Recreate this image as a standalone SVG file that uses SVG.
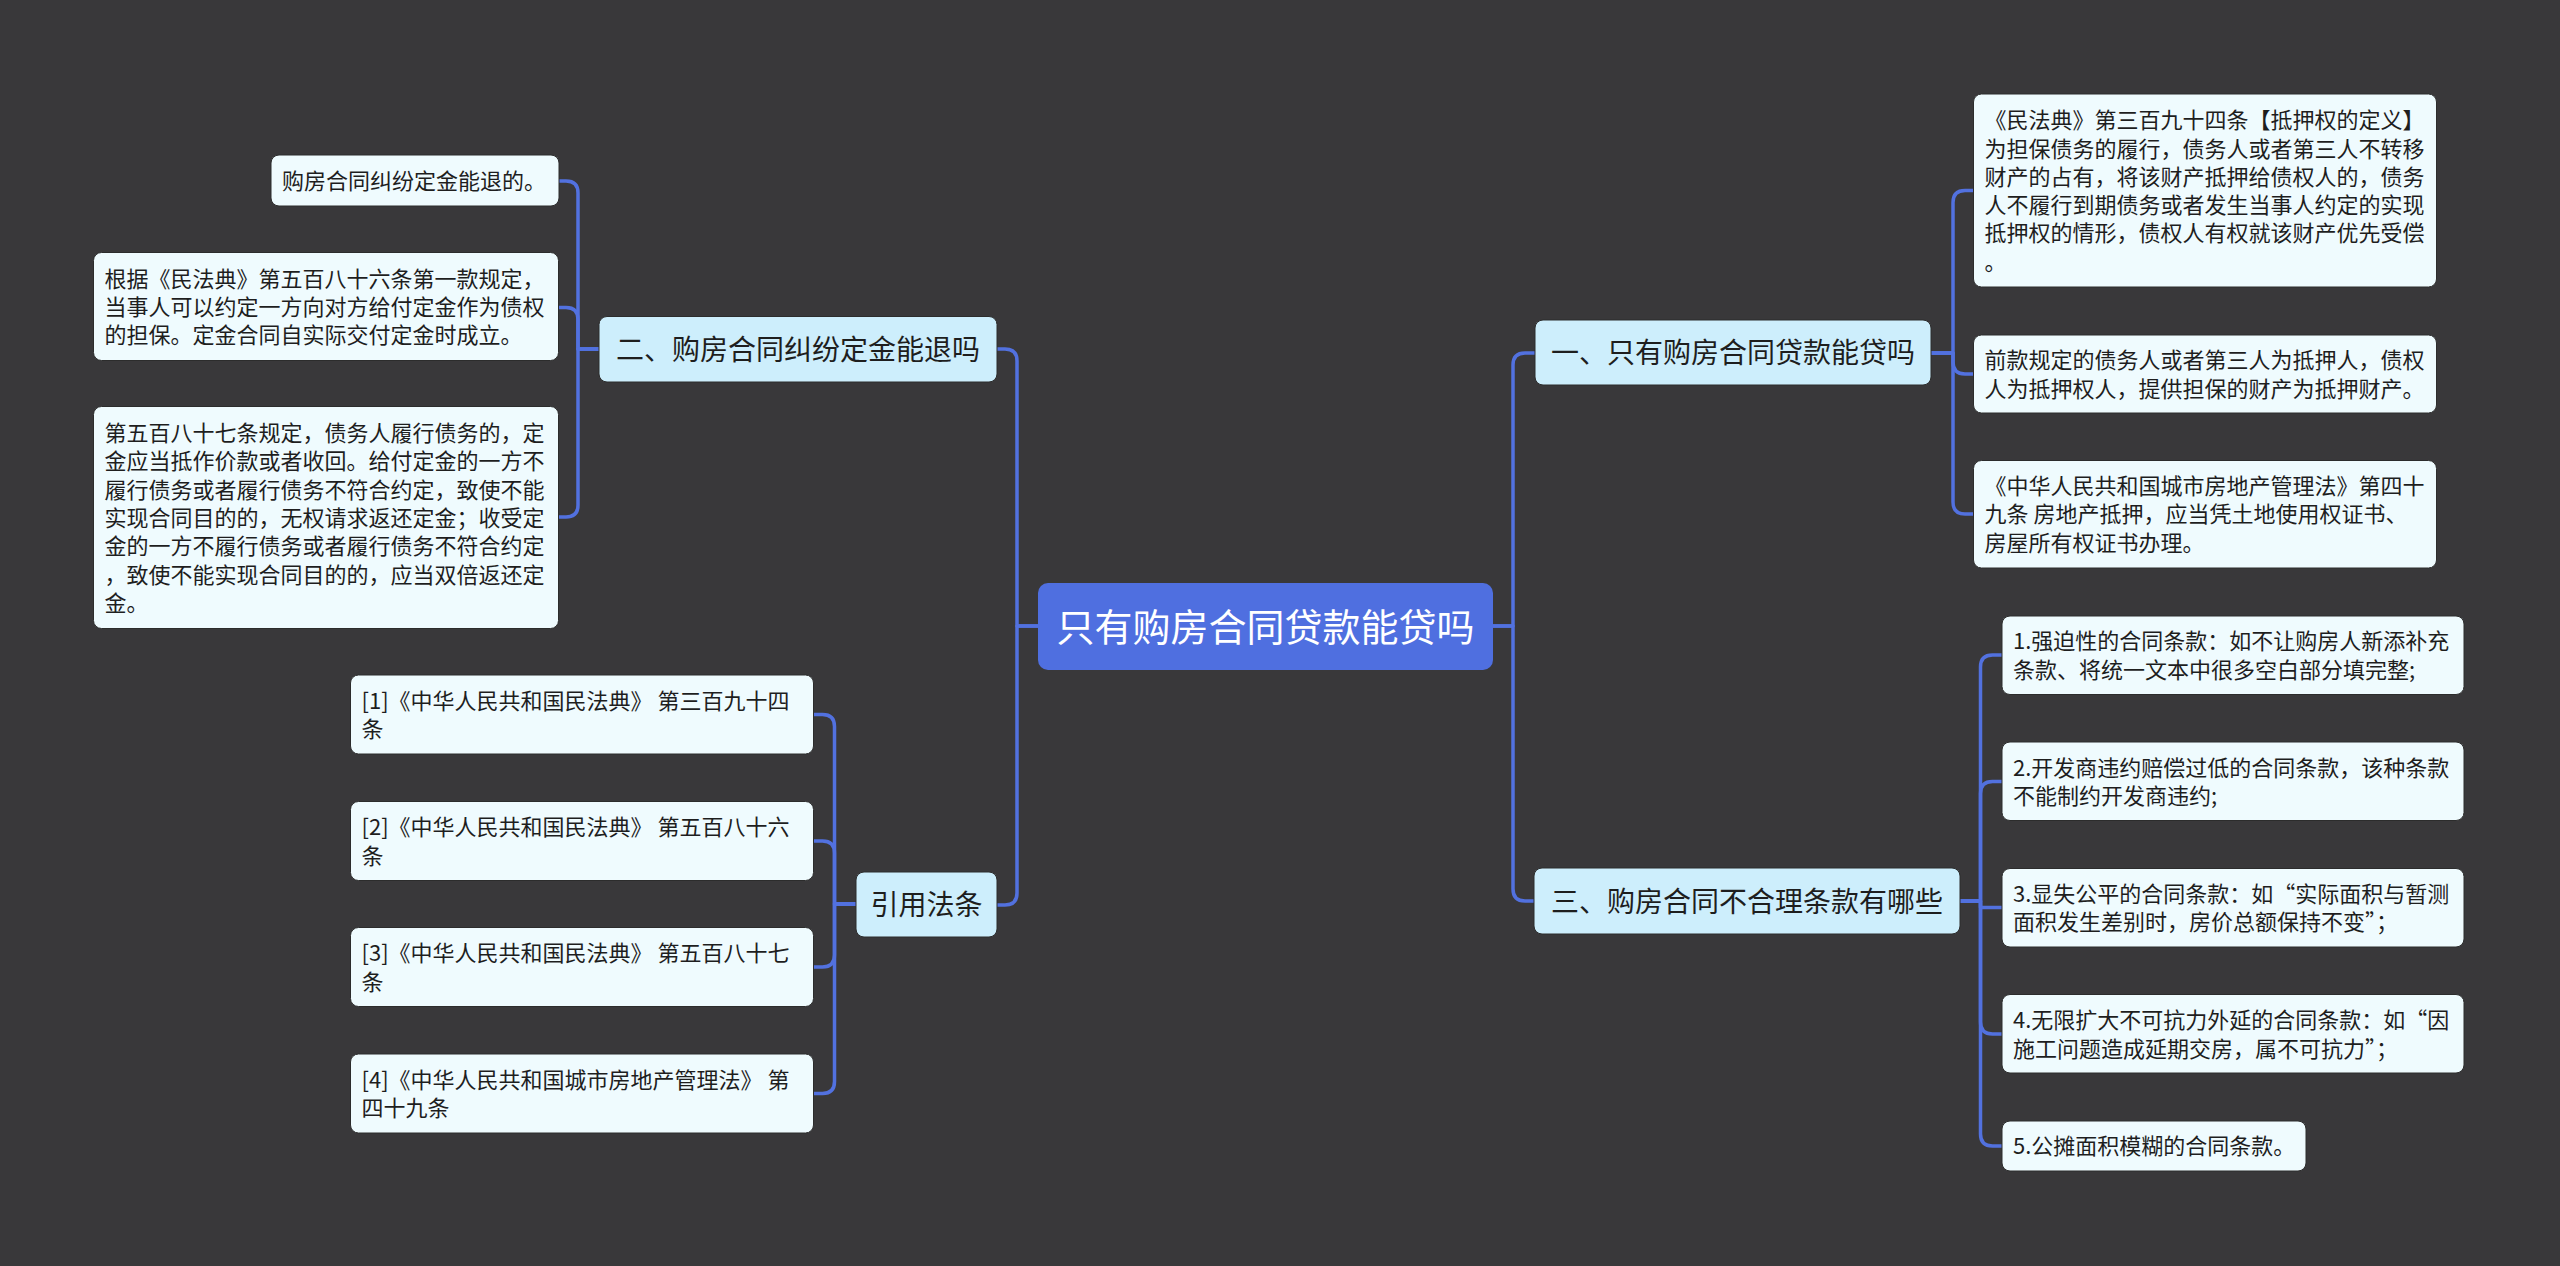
<svg xmlns="http://www.w3.org/2000/svg" width="2560" height="1266" viewBox="0 0 2560 1266">
<style>
text{font-family:"Noto Sans CJK SC","Noto Sans",sans-serif;fill:#1e1e1e}
.leaf rect{fill:#effbfe;stroke:#2c2c2c;stroke-width:1}
.lt{font-size:22px}
.node rect{fill:#cdeefc;stroke:#2c2c2c;stroke-width:1}
.nt{font-size:28px;text-anchor:middle}
.root rect{fill:#4f6fe0}
.rt{font-size:38px;text-anchor:middle;fill:#ffffff}
.conn path{fill:none;stroke:#5271df;stroke-width:3.5;stroke-linecap:round;stroke-linejoin:round}
</style>
<rect width="2560" height="1266" fill="#39383a"/>
<g class="conn" id="connectors">
<path d="M1038 626 H1017 V361 Q1017 349 1005 349 H996"/>
<path d="M1038 626 H1017 V893 Q1017 905 1005 905 H997"/>
<path d="M1493 626 H1513 V365 Q1513 353 1525 353 H1535"/>
<path d="M1493 626 H1513 V889 Q1513 901 1525 901 H1534"/>
<path d="M599 349 H578 V193 Q578 181 566 181 H559"/>
<path d="M599 349 H578 V319.5 Q578 307.5 566 307.5 H559"/>
<path d="M599 349 H578 V505 Q578 517 566 517 H559"/>
<path d="M856 904 H834.5 V726.5 Q834.5 714.5 822.5 714.5 H814"/>
<path d="M856 904 H834.5 V853 Q834.5 841 822.5 841 H814"/>
<path d="M856 904 H834.5 V955 Q834.5 967 822.5 967 H814"/>
<path d="M856 904 H834.5 V1081.5 Q834.5 1093.5 822.5 1093.5 H814"/>
<path d="M1931 353 H1953 V202.5 Q1953 190.5 1965 190.5 H1973.5"/>
<path d="M1931 353 H1953 V362 Q1953 374 1965 374 H1973.5"/>
<path d="M1931 353 H1953 V502 Q1953 514 1965 514 H1973.5"/>
<path d="M1960 901 H1980.5 V667 Q1980.5 655 1992.5 655 H2002"/>
<path d="M1960 901 H1980.5 V793.5 Q1980.5 781.5 1992.5 781.5 H2002"/>
<path d="M1960 901 H1980.5 V907.6 H2002"/>
<path d="M1960 901 H1980.5 V1022 Q1980.5 1034 1992.5 1034 H2002"/>
<path d="M1960 901 H1980.5 V1134 Q1980.5 1146 1992.5 1146 H2002"/>
</g>
<g class="root" id="root">
<rect x="1038" y="583" width="455" height="87" rx="10"/>
<text class="rt" x="1265.5" y="640.5">只有购房合同贷款能贷吗</text>
</g>
<g class="node" id="n-er">
<rect x="599" y="316.5" width="398" height="65.5" rx="8"/>
<text class="nt" x="798" y="360">二、购房合同纠纷定金能退吗</text>
</g>
<g class="node" id="n-yin">
<rect x="856" y="872" width="141" height="65" rx="8"/>
<text class="nt" x="926.5" y="915">引用法条</text>
</g>
<g class="node" id="n-yi">
<rect x="1535" y="320" width="396" height="65" rx="8"/>
<text class="nt" x="1733" y="363">一、只有购房合同贷款能贷吗</text>
</g>
<g class="node" id="n-san">
<rect x="1534" y="868" width="426" height="66" rx="8"/>
<text class="nt" x="1747" y="911.5">三、购房合同不合理条款有哪些</text>
</g>
<g class="leaf" id="l-er-1">
<rect x="271" y="155" width="288" height="51" rx="8"/>
<text class="lt" x="282" y="189.4">购房合同纠纷定金能退的。</text>
</g>
<g class="leaf" id="l-er-2">
<rect x="93.5" y="252.5" width="465" height="108" rx="8"/>
<text class="lt" x="104.5" y="286.6">根据《民法典》第五百八十六条第一款规定，</text>
<text class="lt" x="104.5" y="314.9">当事人可以约定一方向对方给付定金作为债权</text>
<text class="lt" x="104.5" y="343.2">的担保。定金合同自实际交付定金时成立。</text>
</g>
<g class="leaf" id="l-er-3">
<rect x="93.5" y="406.5" width="465" height="222" rx="8"/>
<text class="lt" x="104.5" y="441">第五百八十七条规定，债务人履行债务的，定</text>
<text class="lt" x="104.5" y="469.3">金应当抵作价款或者收回。给付定金的一方不</text>
<text class="lt" x="104.5" y="497.6">履行债务或者履行债务不符合约定，致使不能</text>
<text class="lt" x="104.5" y="525.9">实现合同目的的，无权请求返还定金；收受定</text>
<text class="lt" x="104.5" y="554.2">金的一方不履行债务或者履行债务不符合约定</text>
<text class="lt" x="104.5" y="582.5">，致使不能实现合同目的的，应当双倍返还定</text>
<text class="lt" x="104.5" y="610.8">金。</text>
</g>
<g class="leaf" id="l-yin-1">
<rect x="350.5" y="675" width="463" height="79" rx="8"/>
<text class="lt" x="361.5" y="708.8">[1]《中华人民共和国民法典》 第三百九十四</text>
<text class="lt" x="361.5" y="737.1">条</text>
</g>
<g class="leaf" id="l-yin-2">
<rect x="350.5" y="801.5" width="463" height="79" rx="8"/>
<text class="lt" x="361.5" y="835.3">[2]《中华人民共和国民法典》 第五百八十六</text>
<text class="lt" x="361.5" y="863.6">条</text>
</g>
<g class="leaf" id="l-yin-3">
<rect x="350.5" y="927.5" width="463" height="79" rx="8"/>
<text class="lt" x="361.5" y="961.3">[3]《中华人民共和国民法典》 第五百八十七</text>
<text class="lt" x="361.5" y="989.6">条</text>
</g>
<g class="leaf" id="l-yin-4">
<rect x="350.5" y="1054" width="463" height="79" rx="8"/>
<text class="lt" x="361.5" y="1087.8">[4]《中华人民共和国城市房地产管理法》 第</text>
<text class="lt" x="361.5" y="1116.1">四十九条</text>
</g>
<g class="leaf" id="l-yi-1">
<rect x="1973.5" y="94" width="463" height="193" rx="8"/>
<text class="lt" x="1984.5" y="128.2">《民法典》第三百九十四条【抵押权的定义】</text>
<text class="lt" x="1984.5" y="156.5">为担保债务的履行，债务人或者第三人不转移</text>
<text class="lt" x="1984.5" y="184.8">财产的占有，将该财产抵押给债权人的，债务</text>
<text class="lt" x="1984.5" y="213.1">人不履行到期债务或者发生当事人约定的实现</text>
<text class="lt" x="1984.5" y="241.4">抵押权的情形，债权人有权就该财产优先受偿</text>
<text class="lt" x="1984.5" y="269.7">。</text>
</g>
<g class="leaf" id="l-yi-2">
<rect x="1973.5" y="335" width="463" height="78" rx="8"/>
<text class="lt" x="1984.5" y="368.3">前款规定的债务人或者第三人为抵押人，债权</text>
<text class="lt" x="1984.5" y="396.6">人为抵押权人，提供担保的财产为抵押财产。</text>
</g>
<g class="leaf" id="l-yi-3">
<rect x="1973.5" y="460.5" width="463" height="107.5" rx="8"/>
<text class="lt" x="1984.5" y="494.1">《中华人民共和国城市房地产管理法》第四十</text>
<text class="lt" x="1984.5" y="522.4">九条 房地产抵押，应当凭土地使用权证书、</text>
<text class="lt" x="1984.5" y="550.7">房屋所有权证书办理。</text>
</g>
<g class="leaf" id="l-san-1">
<rect x="2002" y="616" width="462" height="78.5" rx="8"/>
<text class="lt" x="2013" y="649.3">1.强迫性的合同条款：如不让购房人新添补充</text>
<text class="lt" x="2013" y="677.6">条款、将统一文本中很多空白部分填完整;</text>
</g>
<g class="leaf" id="l-san-2">
<rect x="2002" y="742" width="462" height="78.5" rx="8"/>
<text class="lt" x="2013" y="775.8">2.开发商违约赔偿过低的合同条款，该种条款</text>
<text class="lt" x="2013" y="804.1">不能制约开发商违约;</text>
</g>
<g class="leaf" id="l-san-3">
<rect x="2002" y="868.5" width="462" height="78.5" rx="8"/>
<text class="lt" x="2013" y="901.9">3.显失公平的合同条款：如“实际面积与暂测</text>
<text class="lt" x="2013" y="930.2">面积发生差别时，房价总额保持不变”；</text>
</g>
<g class="leaf" id="l-san-4">
<rect x="2002" y="994.5" width="462" height="78.5" rx="8"/>
<text class="lt" x="2013" y="1028.3">4.无限扩大不可抗力外延的合同条款：如“因</text>
<text class="lt" x="2013" y="1056.6">施工问题造成延期交房，属不可抗力”；</text>
</g>
<g class="leaf" id="l-san-5">
<rect x="2002" y="1121" width="304" height="50" rx="8"/>
<text class="lt" x="2013" y="1154.4">5.公摊面积模糊的合同条款。</text>
</g>
</svg>
